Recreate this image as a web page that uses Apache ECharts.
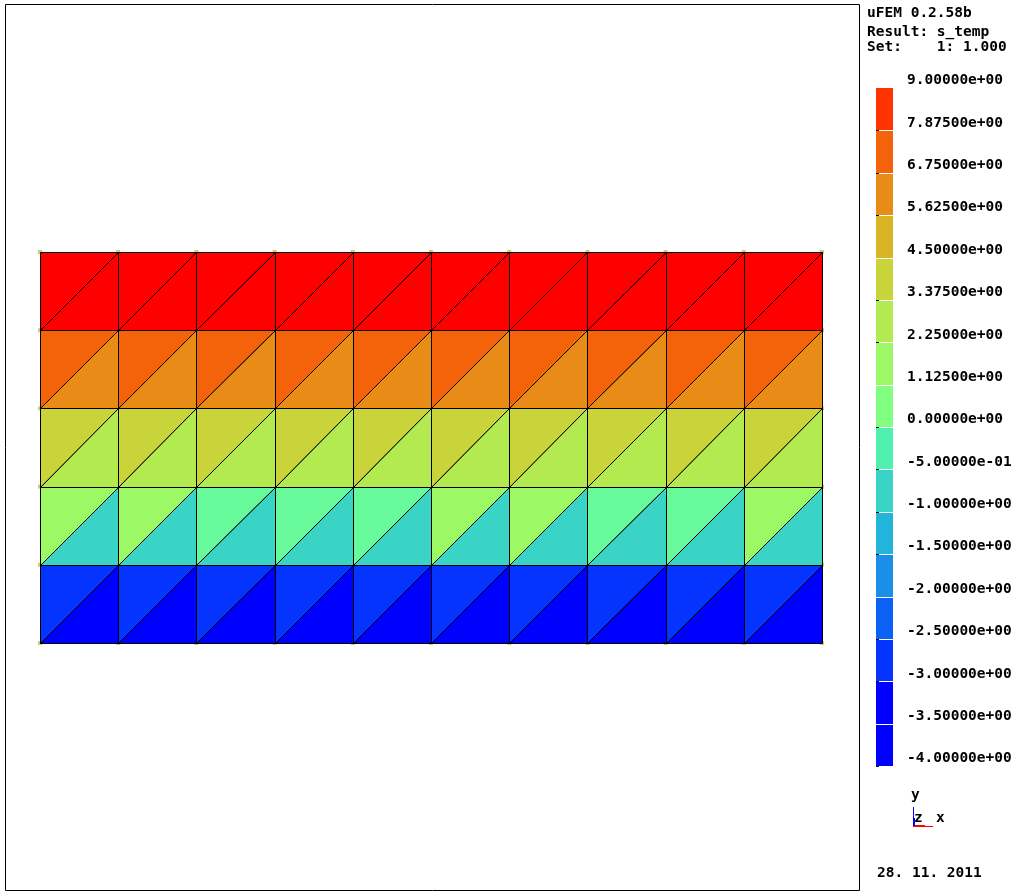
<!DOCTYPE html>
<html>
<head>
<meta charset="utf-8">
<script src="https://cdn.jsdelivr.net/npm/echarts@6/dist/echarts.min.js"></script>
<style>html,body{margin:0;padding:0;background:#fff}#c{width:1023px;height:896px}</style>
</head>
<body>
<div id="c"></div>
<script>
// ---- data ----
const COLS = 10;
const ROWS = 5;
// values of the upper-left triangle of each cell, rows listed top to bottom
const upperVals = [
  [9.0, 9.0, 9.0, 9.0, 9.0, 9.0, 9.0, 9.0, 9.0, 9.0],
  [7.2, 7.2, 7.2, 7.2, 7.2, 7.2, 7.2, 7.2, 7.2, 7.2],
  [4.0, 4.0, 4.0, 4.0, 4.0, 4.0, 4.0, 4.0, 4.0, 4.0],
  [1.6, 1.6, 0.6, 0.6, 0.6, 1.6, 1.6, 0.6, 0.6, 1.6],
  [-2.8, -2.8, -2.8, -2.8, -2.8, -2.8, -2.8, -2.8, -2.8, -2.8]
];
// values of the lower-right triangle of each cell, rows listed top to bottom
const lowerVals = [
  [8.9, 8.9, 8.9, 8.9, 8.9, 8.9, 8.9, 8.9, 8.9, 8.9],
  [6.2, 6.2, 6.2, 6.2, 6.2, 6.2, 6.2, 6.2, 6.2, 6.2],
  [3.0, 3.0, 3.0, 3.0, 3.0, 3.0, 3.0, 3.0, 3.0, 3.0],
  [-0.8, -0.8, -0.8, -0.8, -0.8, -0.8, -0.8, -0.8, -0.8, -0.8],
  [-3.8, -3.8, -3.8, -3.8, -3.8, -3.8, -3.8, -3.8, -3.8, -3.8]
];
// colour scale band edges (bottom to top) and their tick labels
const bandEdges = [-4, -3.5, -3, -2.5, -2, -1.5, -1, -0.5, 0, 1.125, 2.25, 3.375, 4.5, 5.625, 6.75, 7.875, 9];
const tickLabels = ['-4.00000e+00', '-3.50000e+00', '-3.00000e+00', '-2.50000e+00', '-2.00000e+00',
  '-1.50000e+00', '-1.00000e+00', '-5.00000e-01', '0.00000e+00', '1.12500e+00', '2.25000e+00',
  '3.37500e+00', '4.50000e+00', '5.62500e+00', '6.75000e+00', '7.87500e+00', '9.00000e+00'];
const legendColors = ['#0000ff', '#0000ff', '#0434fd', '#0c62f4', '#1890e8', '#22b4da', '#3ad4c6', '#50f0b0',
  '#80ff80', '#9cf864', '#b2ea50', '#c8d43a', '#d9b526', '#e88c17', '#f46209', '#ff3300'];
const meshColors = ['#0000ff', '#0000ff', '#0434fd', '#0c62f4', '#1890e8', '#22b4da', '#3ad4c6', '#50f0b0',
  '#66fa9a', '#9cf864', '#b2ea50', '#c8d43a', '#d9b526', '#e88c17', '#f46209', '#ff0000'];
const headerLines = ['uFEM 0.2.58b', 'Result: s_temp', 'Set:    1: 1.000'];
const dateText = '28. 11. 2011';

// ---- build ----
function bandOf(v) {
  for (let i = 0; i < bandEdges.length - 1; i++) {
    if (v >= bandEdges[i] && v <= bandEdges[i + 1]) return i;
  }
  return v < bandEdges[0] ? 0 : bandEdges.length - 2;
}
const triData = [];
for (let r = 0; r < ROWS; r++) {
  for (let c = 0; c < COLS; c++) {
    triData.push([c, r, 0, upperVals[r][c]]);
    triData.push([c, r, 1, lowerVals[r][c]]);
  }
}
const nodes = [];
for (let j = 0; j <= ROWS; j++) for (let i = 0; i <= COLS; i++) nodes.push([i, j]);
const bandData = legendColors.map((col, i) => [i, bandEdges[i], bandEdges[i + 1]]);

const snap = p => [Math.round(p[0]) + 0.5, Math.round(p[1]) + 0.5];
const FONT = 'DejaVu Sans Mono';
const F = 'bold 14.5px "' + FONT + '"';
const chart = echarts.init(document.getElementById('c'), null, {renderer: 'canvas'});
chart.setOption({
  animation: false,
  backgroundColor: '#ffffff',
  grid: [
    {left: 40, top: 252, width: 782, height: 391},
    {left: 876, top: 88, width: 17, height: 678}
  ],
  xAxis: [
    {gridIndex: 0, type: 'value', min: 0, max: COLS, show: false},
    {gridIndex: 1, type: 'value', min: 0, max: 1, show: false}
  ],
  yAxis: [
    {gridIndex: 0, type: 'value', min: 0, max: ROWS, show: false},
    {gridIndex: 1, type: 'value', min: 0, max: 16, interval: 1, position: 'right', offset: 2,
      axisLine: {show: false}, splitLine: {show: false},
      axisTick: {show: true, length: 3, lineStyle: {color: '#000', width: 1}},
      axisLabel: {show: true, margin: 12, color: '#000', fontFamily: FONT, fontWeight: 'bold', fontSize: 14.5,
        verticalAlign: 'bottom', showMinLabel: true, showMaxLabel: true, hideOverlap: false,
        formatter: v => tickLabels[Math.round(v)]}
    }
  ],
  series: [
    {
      type: 'scatter', xAxisIndex: 0, yAxisIndex: 0, z: 1, silent: true,
      symbol: 'rect', symbolSize: 4, itemStyle: {color: '#c8c040'},
      data: nodes
    },
    {
      type: 'custom', xAxisIndex: 0, yAxisIndex: 0, z: 2, silent: true,
      data: triData,
      renderItem: function (params, api) {
        const c = api.value(0), r = api.value(1), t = api.value(2), v = api.value(3);
        const yt = ROWS - r, yb = ROWS - r - 1;
        let pts;
        if (t === 0) pts = [[c, yb], [c, yt], [c + 1, yt]];
        else pts = [[c, yb], [c + 1, yb], [c + 1, yt]];
        pts = pts.map(p => snap(api.coord(p)));
        return {
          type: 'polygon',
          shape: {points: pts},
          style: {fill: meshColors[bandOf(v)], stroke: '#000', lineWidth: 1}
        };
      }
    },
    {
      type: 'custom', xAxisIndex: 1, yAxisIndex: 1, silent: true,
      data: bandData,
      renderItem: function (params, api) {
        const i = api.value(0);
        const p0 = api.coord([0, i + 1]);
        const p1 = api.coord([1, i]);
        const y0 = Math.round(p0[1]), y1 = Math.round(p1[1]);
        const gap = i < legendColors.length - 1 ? 1 : 0;
        return {
          type: 'rect',
          shape: {x: Math.round(p0[0]), y: y0 + gap, width: Math.round(p1[0] - p0[0]), height: y1 - y0 - gap},
          style: {fill: legendColors[i]}
        };
      }
    }
  ],
  graphic: [
    {type: 'rect', shape: {x: 5.5, y: 4.5, width: 854, height: 886}, style: {fill: 'none', stroke: '#000', lineWidth: 1}, silent: true},
    {type: 'text', left: 867, top: 6, style: {text: headerLines[0], font: F, fill: '#000'}},
    {type: 'text', left: 867, top: 25, style: {text: headerLines[1], font: F, fill: '#000'}},
    {type: 'text', left: 867, top: 40, style: {text: headerLines[2], font: F, fill: '#000'}},
    {type: 'text', left: 877, top: 866, style: {text: dateText, font: F, fill: '#000'}},
    {type: 'text', left: 911, top: 788, style: {text: 'y', font: F, fill: '#000'}},
    {type: 'text', left: 914, top: 811, style: {text: 'z', font: F, fill: '#000'}},
    {type: 'text', left: 936, top: 811, style: {text: 'x', font: F, fill: '#000'}},
    {type: 'line', shape: {x1: 913.5, y1: 807, x2: 913.5, y2: 827}, style: {stroke: '#0000ff', lineWidth: 1}},
    {type: 'rect', shape: {x: 913, y: 818, width: 2, height: 9}, style: {fill: '#0000ff'}},
    {type: 'line', shape: {x1: 913, y1: 826.5, x2: 933, y2: 826.5}, style: {stroke: '#ff0000', lineWidth: 1}},
    {type: 'rect', shape: {x: 915, y: 825, width: 10, height: 1}, style: {fill: '#ff0000'}}
  ]
});
</script>
</body>
</html>
